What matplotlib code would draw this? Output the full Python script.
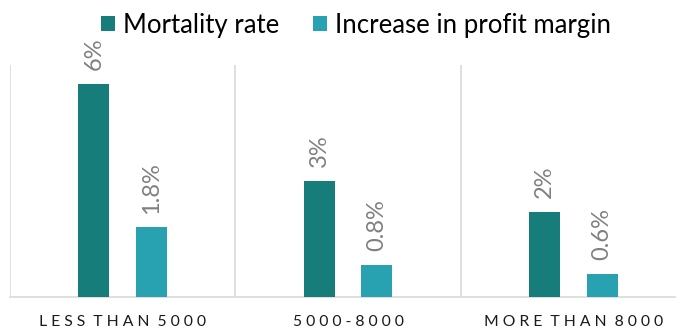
import matplotlib
matplotlib.use("Agg")
import matplotlib.pyplot as plt
import numpy as np

plt.rcParams["font.family"] = ["Lato", "DejaVu Sans"]

categories = ["LESS THAN 5000", "5000-8000", "MORE THAN 8000"]
mortality = [5.5, 3.0, 2.2]
profit = [1.8, 0.83, 0.6]
mortality_fmt = "{:.0f}%"
profit_fmt = "{:.1f}%"

dark_teal = "#177d7a"
light_teal = "#28a1b1"
grid_col = "#d9d9d9"
label_col = "#808080"

fig = plt.figure(figsize=(6.76, 3.31), dpi=100)
ax = fig.add_axes([10 / 676, 34 / 331, 676 / 676, 232 / 331])

x = np.arange(len(categories))
w = 0.138
off = 0.128
b1 = ax.bar(x - off, mortality, w, color=dark_teal, label="Mortality rate", zorder=3)
b2 = ax.bar(x + off, profit, w, color=light_teal, label="Increase in profit margin", zorder=3)

for bars, vals, fmt in [(b1, mortality, mortality_fmt), (b2, profit, profit_fmt)]:
    for r, v in zip(bars, vals):
        ax.annotate(fmt.format(v), (r.get_x() + r.get_width() / 2, v),
                    xytext=(0, 10), textcoords="offset points",
                    rotation=90, ha="center", va="bottom",
                    fontsize=17, color=label_col)

ax.set_xlim(-0.5, len(categories) - 0.5)
ax.set_ylim(0, 6)

# category separators
for sx in np.arange(len(categories)) - 0.5:
    ax.axvline(sx, color=grid_col, lw=1.2, zorder=1)

for s in ["top", "right", "left"]:
    ax.spines[s].set_visible(False)
ax.spines["bottom"].set_color(grid_col)
ax.spines["bottom"].set_linewidth(1.2)

ax.set_yticks([])
ax.set_xticks(x)
ax.set_xticklabels([" ".join(c).replace("   ", "  ") for c in categories],
                   fontsize=11.3, color="#1a1a1a")
ax.tick_params(axis="x", length=0, pad=13)

fig.legend(loc="center", bbox_to_anchor=(356 / 676, 1 - 25 / 331), ncol=2,
           frameon=False, fontsize=18.5, handlelength=0.55, handleheight=0.55,
           handletextpad=0.3, columnspacing=1.3, borderaxespad=0)

fig.savefig("out.png", dpi=100)
